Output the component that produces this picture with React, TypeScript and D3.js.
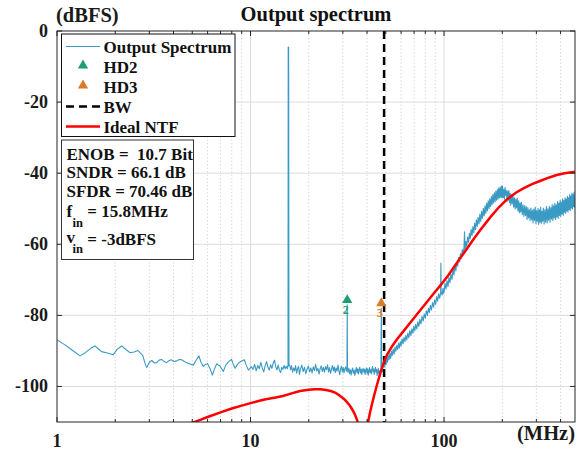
import React from 'react';
import * as d3 from 'd3';

// ---------- data ----------
const xTickValues = [1, 10, 100];
const xTickLabels = ['1', '10', '100'];
const yTickValues = [0, -20, -40, -60, -80, -100];
const yTickLabels = ['0', '-20', '-40', '-60', '-80', '-100'];

// Output spectrum, [MHz, dBFS]
const specLow: [number, number][] = [
  [1, -86.9], [1.1, -88.3], [1.2, -89.8], [1.315, -91.4], [1.4, -90.5], [1.5, -89.2], [1.57, -88.6],
  [1.65, -89.6], [1.7, -90.2], [1.82, -90.6], [1.95, -91.1], [2.05, -89.5], [2.16, -88.6], [2.27, -89.6],
  [2.38, -90.5], [2.5, -90.3], [2.62, -89.9], [2.7, -90.6], [2.78, -91.4], [2.85, -93.5], [2.91, -94.7],
  [3.0, -93.2], [3.09, -92.7], [3.18, -93.4], [3.27, -93.3], [3.37, -92.6], [3.47, -92.4], [3.58, -93.0],
  [3.68, -93.3], [3.78, -92.8], [3.89, -92.5], [4.02, -93.0], [4.16, -92.8], [4.28, -92.4], [4.41, -92.5],
  [4.55, -93.0], [4.68, -93.3], [4.87, -93.7], [5.06, -94.0], [5.25, -92.5], [5.41, -91.4], [5.55, -93.2],
  [5.7, -94.4], [5.85, -93.8], [6.0, -93.6], [6.18, -95.0], [6.35, -96.8], [6.52, -95.0], [6.69, -93.6],
  [6.82, -94.0], [6.95, -94.2], [7.1, -95.0], [7.23, -95.8], [7.45, -94.0], [7.68, -93.1], [7.98, -92.4],
  [8.15, -93.8], [8.33, -94.9], [8.55, -93.8], [8.82, -93.1], [9.05, -92.8], [9.29, -92.5], [9.5, -94.0],
  [9.75, -95.4], [10.1, -94.4],
];
const specFloor: [number, number][] = [
  [10.3, -95.2], [10.5, -93.8], [10.7, -95.6], [10.9, -94.1], [11.1, -95.0], [11.3, -93.2], [11.5, -94.8],
  [11.7, -95.9], [11.9, -94.2], [12.1, -93.0], [12.3, -94.6], [12.5, -95.4], [12.7, -93.9], [12.9, -94.9],
  [13.1, -93.4], [13.3, -92.6], [13.5, -94.5], [13.7, -95.3], [13.9, -94.0], [14.1, -95.5], [14.3, -96.1],
  [14.5, -94.6], [14.7, -95.2], [14.9, -94.1], [15.1, -95.0], [15.3, -94.3], [15.5, -95.0],
  [15.62, -94.0], [15.66, -4.5], [15.74, -4.6], [15.8, -94.2],
  [15.95, -94.0], [16.1, -95.3], [16.3, -94.2], [16.5, -96.0], [16.7, -94.8], [16.9, -95.6], [17.1, -94.1],
  [17.3, -96.3], [17.5, -95.0], [17.7, -94.4], [17.9, -96.6], [18.1, -95.2], [18.4, -94.0], [18.7, -95.8],
  [19.0, -94.6], [19.3, -96.4], [19.6, -95.1], [19.9, -94.3], [20.2, -95.9], [20.5, -94.8], [20.8, -96.2],
  [21.1, -94.5], [21.4, -95.5], [21.7, -93.8], [22.0, -95.7], [22.3, -94.9], [22.6, -96.5], [22.9, -95.0],
  [23.2, -94.2], [23.5, -95.8], [23.8, -94.6], [24.1, -96.0], [24.4, -94.4], [24.7, -95.3], [25.0, -93.9],
  [25.3, -95.9], [25.6, -94.7], [25.9, -96.3], [26.2, -95.2], [26.5, -94.1], [26.8, -95.6], [27.1, -94.5],
  [27.4, -96.1], [27.7, -94.8], [28.0, -95.7], [28.3, -94.0], [28.6, -95.5], [28.9, -96.7], [29.2, -95.0],
  [29.5, -94.3], [29.8, -95.9], [30.1, -94.6], [30.4, -96.2], [30.7, -95.1], [31.0, -94.5], [31.3, -95.7],
  [31.5, -95.0], [31.6, -77.0], [31.7, -95.2], [31.9, -96.0], [32.2, -94.9], [32.5, -96.4], [32.8, -95.3],
  [33.1, -96.8], [33.4, -95.5], [33.7, -94.8], [34.0, -96.3], [34.3, -95.4], [34.6, -96.9], [34.9, -95.6],
  [35.2, -94.7], [35.5, -96.1], [35.8, -95.0], [36.1, -96.5], [36.4, -95.3], [36.7, -94.6], [37.0, -96.2],
  [37.3, -95.1], [37.6, -96.7], [37.9, -95.4], [38.2, -94.9], [38.5, -96.0], [38.8, -95.2], [39.1, -96.6],
  [39.4, -95.5], [39.7, -94.8], [40.0, -96.3], [40.3, -95.0], [40.6, -96.8], [40.9, -95.6], [41.2, -94.7],
  [41.5, -96.1], [41.8, -95.3], [42.1, -96.5], [42.4, -95.0], [42.7, -94.4], [43.0, -95.9], [43.3, -95.1],
  [43.6, -96.6], [43.9, -95.4], [44.2, -94.6], [44.5, -96.0], [44.8, -95.2], [45.1, -97.0], [45.4, -95.7],
  [45.7, -94.9], [46.0, -96.4], [46.3, -95.5], [46.6, -97.3], [46.9, -95.8], [47.2, -95.0], [47.4, -78.0],
];
const specRise: [number, number][] = [
  [47.6, -95.4], [47.9, -96.0], [48.2, -94.9], [48.6, -94.4], [49.0, -93.0], [49.4, -94.6], [49.8, -92.6],
  [50.2, -93.8], [50.6, -91.9], [51.0, -93.2], [51.5, -91.4], [52.0, -92.5], [52.5, -90.7], [53.0, -92.1],
  [53.5, -90.1], [54.0, -91.3], [54.6, -89.5], [55.2, -90.9], [55.8, -88.9], [56.4, -90.1], [57.0, -88.4],
  [57.6, -89.6], [58.2, -87.8], [58.8, -89.2], [59.4, -87.4], [60.0, -88.6], [60.7, -86.6], [61.4, -88.0],
  [62.1, -86.2], [62.8, -87.4], [63.5, -85.6], [64.2, -86.9], [65.0, -85.0], [65.8, -86.3], [66.6, -84.3],
  [67.4, -85.7], [68.2, -83.8], [69.0, -85.0], [69.8, -83.1], [70.6, -84.4], [71.4, -82.5], [72.3, -83.8],
  [73.2, -81.8], [74.1, -83.1], [75.0, -81.1], [76.0, -82.4], [77.0, -80.3], [78.0, -81.6], [79.0, -79.6],
  [80.0, -80.8], [81.0, -78.7], [82.0, -80.0], [83.0, -78.0], [84.0, -79.2], [85.0, -77.2], [86.1, -78.5],
  [87.2, -76.4], [88.3, -77.7], [89.4, -75.6], [90.5, -76.9], [91.6, -74.7], [92.7, -76.0], [93.8, -73.9],
  [94.9, -75.2], [96.0, -73.7], [96.3, -65.3], [96.6, -73.4], [97.7, -74.3], [98.8, -72.4], [99.4, -73.8],
  [100, -73.4], [101.2, -71.0], [102.4, -72.6], [103.6, -70.2], [104.8, -71.9], [106, -69.3], [107.3, -70.8],
  [108.6, -68.4], [109.9, -69.9], [111.2, -67.1], [112.5, -68.6], [113.8, -66.0], [115.1, -67.5], [116.4, -65.1],
  [117.7, -66.2], [119, -63.7], [120.3, -65.0], [121.6, -62.6], [122.9, -63.9], [124.2, -61.5], [125.5, -62.8],
  [126.8, -60.8], [127.6, -56.5], [128.4, -61.6], [129.7, -59.2], [131, -60.6], [132.4, -58.0], [133.8, -59.5],
  [135.2, -56.9], [136.6, -58.4], [138, -55.8], [139.5, -57.6], [141, -55.0], [142.5, -56.8], [144, -54.0],
  [145.5, -55.9], [147, -53.1], [148.5, -55.0], [150, -52.4], [151.6, -54.3], [153.2, -51.5], [154.8, -53.6],
  [156.4, -50.7], [158, -52.7], [159.6, -49.9], [161.2, -52.0], [162.8, -49.2], [164.4, -51.3], [166, -48.4],
  [167.6, -50.6], [169.2, -47.8], [170.8, -50.0], [172.4, -47.2], [174, -49.4], [175.6, -46.6], [177.2, -48.9],
  [178.8, -46.0], [180.4, -48.4], [182, -45.5], [183.6, -48.0], [185.2, -45.0], [186.8, -47.6], [188.4, -44.6],
  [190, -47.3], [191.6, -44.2], [193.2, -47.0], [194.8, -43.9], [196.4, -46.8], [198, -43.7], [199.3, -46.9],
];
const specTop: [number, number][] = [
  [200.5, -43.6], [202, -46.9], [203.6, -44.5], [205.2, -47.3], [206.8, -44.0], [208.4, -46.2], [210, -44.9],
  [211.6, -48.0], [213.2, -45.1], [214.8, -47.6], [216.4, -44.8], [218, -48.3], [219.6, -45.7], [221.2, -49.0],
  [223, -46.0], [225, -48.6], [227, -46.4], [229, -49.6], [231, -46.9], [233, -50.1], [235, -47.3],
  [237, -49.8], [239, -47.0], [241, -50.6], [243, -47.8], [245, -51.1], [247, -48.4], [249, -50.9],
  [251, -48.2], [253.5, -51.7], [256, -48.9], [258.5, -52.2], [261, -49.1], [263.5, -51.9], [266, -49.4],
  [268.5, -53.0], [271, -49.7], [273.5, -52.6], [276, -50.2], [278.5, -53.4], [281, -49.8], [283.5, -53.1],
  [286, -50.4], [288.5, -54.0], [291, -50.1], [293.5, -53.3], [296, -49.6], [298.5, -54.2], [301, -50.5],
  [303.5, -53.6], [306, -49.9], [308.5, -54.4], [311, -50.3], [313.5, -53.8], [316, -49.5], [318.5, -54.1],
  [321, -50.7], [323.5, -53.5], [326, -49.8], [329, -54.3], [332, -50.2], [335, -53.7], [338, -49.4],
  [341, -54.0], [344, -50.0], [347, -53.2], [350, -49.3], [353, -53.8], [356, -49.7], [359, -52.9],
  [362, -48.8], [365, -53.4], [368, -49.2], [371, -52.6], [374, -48.5], [377, -53.0], [380, -48.9],
  [383, -52.3], [386, -48.0], [389, -52.7], [392, -48.4], [395, -51.9], [398, -47.6], [401, -52.2],
  [404, -48.1], [407, -51.5], [410, -47.2], [413, -51.8], [416, -47.7], [419, -51.0], [422, -46.9],
  [425, -51.3], [428, -47.3], [431, -50.6], [434, -46.5], [437, -50.9], [440, -46.9], [443, -50.2],
  [446, -46.0], [449, -50.5], [452, -46.4], [455, -49.8], [458, -45.6], [461, -50.1], [464, -46.0],
  [467, -49.4], [470, -45.3], [473, -49.6], [475, -46.8],
];

// Ideal NTF, two branches around the notch
const ntfLeft: [number, number][] = [
  [4.9, -110.4], [5.5, -109.4], [6, -108.6], [7, -107.3], [8, -106.2], [9, -105.4], [10, -104.7],
  [11, -104.1], [12, -103.6], [13.5, -103.1], [14.7, -102.7], [16, -102.1], [18, -101.3], [20, -100.9],
  [21.5, -100.8], [23, -100.8], [24.5, -101.0], [26, -101.3], [27.5, -101.8], [29, -102.6], [30.5, -103.6],
  [31.5, -104.4], [32.5, -105.3], [33.5, -106.4], [34.5, -107.7], [35.5, -109.4], [36.5, -111.5], [37, -113],
];
const ntfRight: [number, number][] = [
  [40, -113], [40.5, -110.0], [41.5, -107.2], [42.5, -104.8], [43.5, -102.6], [45, -99.6], [46.5, -96.9],
  [48, -94.4], [49.5, -92.4], [51, -90.9], [54, -88.6], [57, -86.8], [61.6, -84.5], [67, -82.0],
  [73, -79.5], [80, -76.8], [88, -74.0], [96, -71.5], [105, -68.8], [118.6, -64.6], [130, -61.6],
  [141, -58.8], [155, -55.8], [174, -52.3], [192, -49.6], [210, -47.5], [235, -45.5], [257, -44.3],
  [285, -43.1], [313, -42.2], [350, -41.2], [382, -40.5], [420, -40.0], [465, -39.7], [475, -39.7],
];

const bwFreq = 49;
const hdNames = ['2', '3'];
const hdFreq = [31.6, 47.4];
const hdDb = [-75.7, -76.6];

const legendLabels = ['Output Spectrum', 'HD2', 'HD3', 'BW', 'Ideal NTF'];

// ---------- styles ----------
const FONT = "'Liberation Serif', 'Times New Roman', serif";
const C_SPEC = '#3a9ac4';
const C_NTF = '#ff0000';
const C_HD2 = '#1f9e72';
const C_HD3 = '#dc7a27';

export default function App() {
  const W = 584, H = 450;
  const L = 57, R = 575, T = 31, B = 422;
  const x = d3.scaleLog().domain([1, 475]).range([L, R]);
  const y = d3.scaleLinear().domain([-110, 0]).range([B, T]);
  const line = d3.line<[number, number]>().x(d => x(d[0])).y(d => y(d[1]));

  const minor: number[] = [];
  [1, 10, 100].forEach(dec => {
    for (let k = 2; k <= 9; k++) if (k * dec < 475) minor.push(k * dec);
  });

  const spectrum = [...specLow, ...specFloor, ...specRise, ...specTop];
  const tri = d3.symbol(d3.symbolTriangle, 46)() as string;
  const hdColors = [C_HD2, C_HD3];

  return (
    <svg width={W} height={H} style={{ position: 'absolute', left: 0, top: 0, background: '#fff' }}
      fontFamily={FONT}>
      <defs>
        <clipPath id="plotclip"><rect x={L} y={T} width={R - L} height={B - T} /></clipPath>
      </defs>
      <rect x={0} y={0} width={W} height={H} fill="#fff" />
      {/* grid */}
      {minor.map(v => (
        <line key={'mg' + v} x1={x(v)} x2={x(v)} y1={T} y2={B} stroke="#cfcfcf" strokeWidth={0.8} strokeDasharray="1.5,2" />
      ))}
      {xTickValues.filter(v => v > 1).map(v => (
        <line key={'xg' + v} x1={x(v)} x2={x(v)} y1={T} y2={B} stroke="#dcdcdc" strokeWidth={1} />
      ))}
      {yTickValues.filter(v => v !== 0).map(v => (
        <line key={'yg' + v} x1={L} x2={R} y1={y(v)} y2={y(v)} stroke="#dcdcdc" strokeWidth={1} />
      ))}

      <g clipPath="url(#plotclip)">
        <path d={line(spectrum) as string} fill="none" stroke={C_SPEC} strokeWidth={1.1} strokeLinejoin="round" />
        <line x1={x(bwFreq)} x2={x(bwFreq)} y1={T} y2={B} stroke="#000" strokeWidth={2.5} strokeDasharray="8,5" />
        <path d={line(ntfLeft) as string} fill="none" stroke={C_NTF} strokeWidth={2.5} />
        <path d={line(ntfRight) as string} fill="none" stroke={C_NTF} strokeWidth={2.5} />
      </g>

      {hdFreq.map((f, i) => (
        <g key={'hd' + i}>
          <path d={tri} transform={`translate(${x(f)},${y(hdDb[i])})`} fill={hdColors[i]} />
          <text x={x(f) - 1.5} y={y(hdDb[i]) + 14} fontSize={12} fontWeight="bold" fill={hdColors[i]} textAnchor="middle">{hdNames[i]}</text>
        </g>
      ))}

      {/* axes box */}
      <rect x={L} y={T} width={R - L} height={B - T} fill="none" stroke="#262626" strokeWidth={1} />
      {minor.map(v => (
        <g key={'mt' + v}>
          <line x1={x(v)} x2={x(v)} y1={B} y2={B - 3} stroke="#262626" />
          <line x1={x(v)} x2={x(v)} y1={T} y2={T + 3} stroke="#262626" />
        </g>
      ))}
      {xTickValues.map((v, i) => (
        <g key={'xt' + v}>
          <line x1={x(v)} x2={x(v)} y1={B} y2={B - 5} stroke="#262626" />
          <line x1={x(v)} x2={x(v)} y1={T} y2={T + 5} stroke="#262626" />
          <text x={x(v)} y={447} fontSize={18} fontWeight="bold" textAnchor="middle" fill="#1a1a1a">{xTickLabels[i]}</text>
        </g>
      ))}
      {yTickValues.map((v, i) => (
        <g key={'yt' + v}>
          <line x1={L} x2={L + 5} y1={y(v)} y2={y(v)} stroke="#262626" />
          <line x1={R} x2={R - 5} y1={y(v)} y2={y(v)} stroke="#262626" />
          <text x={48} y={y(v) + 6} fontSize={18} fontWeight="bold" textAnchor="end" fill="#1a1a1a">{yTickLabels[i]}</text>
        </g>
      ))}

      {/* titles */}
      <text x={(L + R) / 2} y={21} fontSize={20.5} fontWeight="bold" textAnchor="middle" fill="#111">Output spectrum</text>
      <text x={56} y={22} fontSize={20.5} fontWeight="bold" fill="#1a1a1a">(dBFS)</text>
      <text x={R} y={440} fontSize={20.5} fontWeight="bold" textAnchor="end" fill="#1a1a1a">(MHz)</text>

      {/* legend */}
      <rect x={61.5} y={34} width={173.5} height={102.5} fill="#fff" stroke="#111" strokeWidth={1} />
      {legendLabels.map((lab, i) => {
        const cy = 46.5 + i * 20;
        return (
          <g key={'lg' + i}>
            {i === 0 && <line x1={66} x2={100} y1={cy} y2={cy} stroke={C_SPEC} strokeWidth={1.2} />}
            {i === 1 && <path d={tri} transform={`translate(83,${cy - 1})`} fill={C_HD2} />}
            {i === 2 && <path d={tri} transform={`translate(83,${cy - 1})`} fill={C_HD3} />}
            {i === 3 && <line x1={66} x2={100} y1={cy} y2={cy} stroke="#000" strokeWidth={2.5} strokeDasharray="8,5" />}
            {i === 4 && <line x1={66} x2={100} y1={cy} y2={cy} stroke={C_NTF} strokeWidth={2.5} />}
            <text x={103.5} y={cy + 6} fontSize={17} fontWeight="bold" fill="#111">{lab}</text>
          </g>
        );
      })}

      {/* info box */}
      <rect x={61.5} y={140} width={132} height={119.5} fill="#fff" stroke="#333" strokeWidth={1} />
      <g fontSize={17} fontWeight="bold" fill="#111">
        <text x={66.5} y={160} xmlSpace="preserve" style={{ whiteSpace: 'pre' }}>{'ENOB =  10.7 Bit'}</text>
        <text x={66.5} y={178.3}>SNDR = 66.1 dB</text>
        <text x={66.5} y={196.6}>SFDR = 70.46 dB</text>
        <text x={66.5} y={217.3}>f</text>
        <text x={72.5} y={226.5} fontSize={12.5}>in</text>
        <text x={87.3} y={217.3}>= 15.8MHz</text>
        <text x={66.5} y={243}>v</text>
        <text x={72.5} y={252.5} fontSize={12.5}>in</text>
        <text x={87.3} y={245}>= -3dBFS</text>
      </g>
    </svg>
  );
}
